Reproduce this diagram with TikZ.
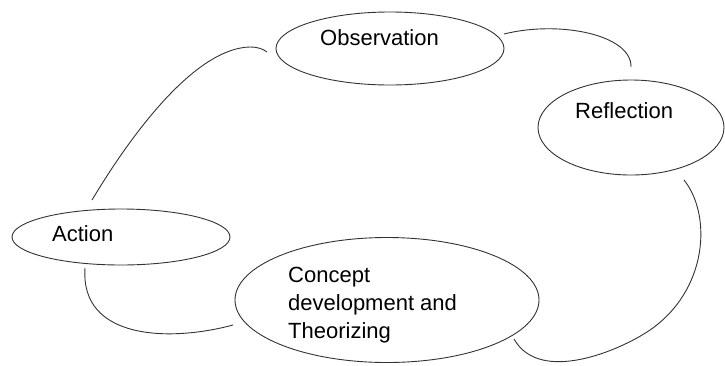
\documentclass[tikz,border=0pt]{standalone}
\usepackage{fontspec}
\setmainfont{Liberation Sans}
\usetikzlibrary{shapes.geometric}
\begin{document}
\begin{tikzpicture}[x=1pt,y=-1pt,
  bubble/.style={draw=black!80,line width=0.9pt,ellipse,inner sep=0pt},
  lbl/.style={inner sep=0pt,anchor=base west,font=\fontsize{22}{28}\selectfont,text=black,align=left},
  link/.style={draw=black!80,line width=0.9pt}]
\useasboundingbox (0,0) rectangle (725,365);
\node[bubble,minimum width=228pt,minimum height=73pt] (obs) at (390,48.5) {};
\node[bubble,minimum width=186pt,minimum height=95pt] (ref) at (631,127.5) {};
\node[bubble,minimum width=218pt,minimum height=56pt] (act) at (121,237) {};
\node[bubble,minimum width=304pt,minimum height=125pt] (con) at (387,300) {};
\node[lbl] (obsT) at (320,45) {Observation};
\node[lbl] (refT) at (575,118) {Reflection};
\node[lbl] (actT) at (52,241) {Action};
\node[lbl] (conT) at (288,338) {Concept\\development and\\Theorizing};
% connector end points
\coordinate (a1) at (92,200);
\coordinate (o1) at (267,52);
\coordinate (o2) at (504,34);
\coordinate (r1) at (631,67);
\coordinate (r2) at (684,180);
\coordinate (c1) at (514,339);
\coordinate (a2) at (85,268);
\coordinate (c2) at (233,325);
\draw[link] (a1) .. controls (140,120) and (200,48) .. (250,47) .. controls (258,47) and (263,49) .. (o1);
\draw[link] (o2) .. controls (560,20) and (632,35) .. (r1);
\draw[link] (r2) .. controls (712,215) and (708,290) .. (650,330) .. controls (621,350) and (540,385) .. (c1);
\draw[link] (a2) .. controls (80,340) and (170,342) .. (c2);
\end{tikzpicture}
\end{document}
